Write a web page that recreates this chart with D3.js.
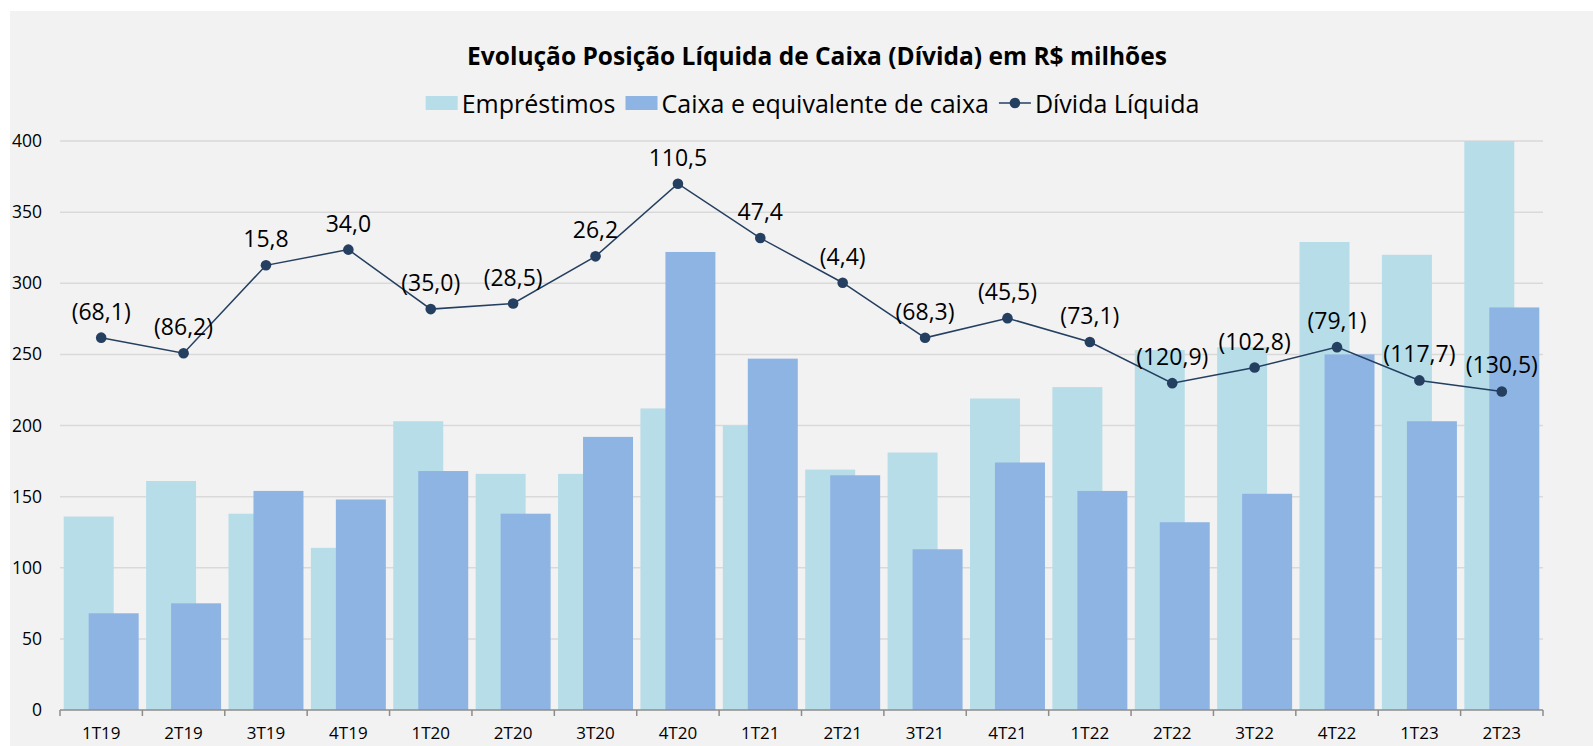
<!DOCTYPE html>
<html>
<head>
<meta charset="utf-8">
<script src="https://cdn.jsdelivr.net/npm/d3@7"></script>
<style>
  body { margin: 0; background: #fff; }
  text { font-family: "Open Sans", sans-serif; fill: #000; }
</style>
</head>
<body>
<div id="chart"></div>
<script>
// dados do gráfico
const quarters = ["1T19","2T19","3T19","4T19","1T20","2T20","3T20","4T20","1T21",
                  "2T21","3T21","4T21","1T22","2T22","3T22","4T22","1T23","2T23"];
const emprestimos = [136, 161, 138, 114, 203, 166, 166, 212, 200,
                     169, 181, 219, 227, 253, 255, 329, 320, 400];
const caixa = [68, 75, 154, 148, 168, 138, 192, 322, 247,
               165, 113, 174, 154, 132, 152, 250, 203, 283];
const dividaLiquida = [-68.1, -86.2, 15.8, 34.0, -35.0, -28.5, 26.2, 110.5, 47.4,
                       -4.4, -68.3, -45.5, -73.1, -120.9, -102.8, -79.1, -117.7, -130.5];
const yTicks = [0, 50, 100, 150, 200, 250, 300, 350, 400];

const W = 1593, H = 746;
const margin = {top: 141, right: 50, bottom: 36, left: 60},
    width = W - margin.left - margin.right,
    height = H - margin.top - margin.bottom;

const cEmp = "#b7dde8", cCaixa = "#8eb4e3", cLine = "#243f60";

const root = d3.select("#chart").append("svg")
    .attr("width", W).attr("height", H);

// fundo cinza da área do gráfico
root.append("rect").attr("x", 10).attr("y", 11)
    .attr("width", W - 10).attr("height", H - 11).attr("fill", "#f2f2f2");

const svg = root.append("g").attr("transform", `translate(${margin.left}, ${margin.top})`);

const x = d3.scaleBand().domain(quarters).range([0, width]).padding(0);
const y = d3.scaleLinear().domain([0, 400]).range([height, 0]);
// eixo secundário (oculto) da dívida líquida
const y2 = d3.scaleLinear().domain([-500, 160]).range([height, 0]);

// grid
svg.append("g").selectAll("line").data(yTicks.filter(d => d > 0)).join("line")
    .attr("x1", 0).attr("x2", width)
    .attr("y1", d => y(d)).attr("y2", d => y(d))
    .attr("stroke", "#d9d9d9").attr("stroke-width", 1.5);

// barras
const groupW = x.bandwidth() * 0.91;
const barW = groupW / 1.5;
const off = (x.bandwidth() - groupW) / 2;

svg.append("g").selectAll("rect").data(emprestimos).join("rect")
    .attr("x", (d, i) => x(quarters[i]) + off)
    .attr("y", d => y(d))
    .attr("width", barW)
    .attr("height", d => height - y(d))
    .attr("fill", cEmp);

svg.append("g").selectAll("rect").data(caixa).join("rect")
    .attr("x", (d, i) => x(quarters[i]) + off + barW / 2)
    .attr("y", d => y(d))
    .attr("width", barW)
    .attr("height", d => height - y(d))
    .attr("fill", cCaixa);

// eixo y
const yAxis = svg.append("g")
    .call(d3.axisLeft(y).tickValues(yTicks).tickSize(0).tickPadding(18));
yAxis.select(".domain").remove();
yAxis.selectAll("text").style("font-size", "17.5px").style("font-family", "Open Sans").attr("fill", "#000");

// eixo x
const xAxis = svg.append("g").attr("transform", `translate(0, ${height})`);
xAxis.append("line").attr("x1", 0).attr("x2", width)
    .attr("stroke", "#8c8c8c").attr("stroke-width", 1.5);
xAxis.selectAll(".tk").data(d3.range(quarters.length + 1)).join("line")
    .attr("x1", i => i * x.step()).attr("x2", i => i * x.step())
    .attr("y1", 0).attr("y2", 6)
    .attr("stroke", "#8c8c8c").attr("stroke-width", 1.5);
xAxis.selectAll(".lb").data(quarters).join("text")
    .attr("x", d => x(d) + x.bandwidth() / 2)
    .attr("y", 22)
    .attr("text-anchor", "middle")
    .attr("dominant-baseline", "central")
    .style("font-size", "17px")
    .text(d => d);

// linha dívida líquida
const cx = (d, i) => x(quarters[i]) + x.bandwidth() / 2;
const line = d3.line().x(cx).y(d => y2(d));
svg.append("path").datum(dividaLiquida)
    .attr("d", line).attr("fill", "none")
    .attr("stroke", cLine).attr("stroke-width", 1.5);
svg.append("g").selectAll("circle").data(dividaLiquida).join("circle")
    .attr("cx", cx).attr("cy", d => y2(d)).attr("r", 5.3)
    .attr("fill", cLine);

const fmt = v => {
  const s = Math.abs(v).toFixed(1).replace(".", ",");
  return v < 0 ? `(${s})` : s;
};
svg.append("g").selectAll("text").data(dividaLiquida).join("text")
    .attr("x", cx).attr("y", d => y2(d) - 27)
    .attr("text-anchor", "middle")
    .attr("dominant-baseline", "central")
    .style("font-size", "23px")
    .text(fmt);

// título
root.append("text").attr("x", 817).attr("y", 65)
    .attr("text-anchor", "middle")
    .style("font-size", "24.5px").style("font-weight", "bold")
    .text("Evolução Posição Líquida de Caixa (Dívida) em R$ milhões");

// legenda
const legendItems = [
  {name: "Empréstimos", type: "bar", color: cEmp},
  {name: "Caixa e equivalente de caixa", type: "bar", color: cCaixa},
  {name: "Dívida Líquida", type: "line", color: cLine}
];
const lg = root.append("g");
let lx = 0;
legendItems.forEach(it => {
  const g = lg.append("g").attr("transform", `translate(${lx}, 0)`);
  if (it.type === "bar") {
    g.append("rect").attr("x", 0).attr("y", -7).attr("width", 32).attr("height", 14).attr("fill", it.color);
  } else {
    g.append("line").attr("x1", 0).attr("x2", 32).attr("y1", 0).attr("y2", 0)
        .attr("stroke", it.color).attr("stroke-width", 1.5);
    g.append("circle").attr("cx", 16).attr("cy", 0).attr("r", 5.3).attr("fill", it.color);
  }
  const t = g.append("text").attr("x", 36).attr("y", 0)
      .attr("dominant-baseline", "central")
      .style("font-size", "25px").text(it.name);
  lx += 36 + t.node().getComputedTextLength() + 10;
});
const lw = lx - 10;
lg.attr("transform", `translate(${812.5 - lw / 2}, 103)`);
</script>
</body>
</html>
